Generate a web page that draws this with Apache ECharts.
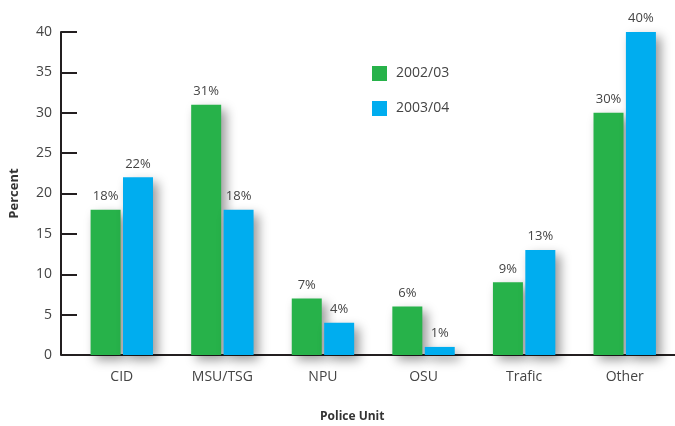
<!DOCTYPE html>
<html><head><meta charset="utf-8">
<script src="https://cdn.jsdelivr.net/npm/echarts@6/dist/echarts.min.js"></script>
<style>html,body{margin:0;padding:0;background:#fff}#c{width:675px;height:426px}</style>
</head><body><div id="c"></div>
<script>
const categories = ['CID', 'MSU/TSG', 'NPU', 'OSU', 'Trafic', 'Other'];
const series2002 = [18, 31, 7, 6, 9, 30];
const series2003 = [22, 18, 4, 1, 13, 40];
const seriesNames = ['2002/03', '2003/04'];
const yTicks = [0, 5, 10, 15, 20, 25, 30, 35, 40];

const font = '"Open Sans", "Noto Sans", sans-serif';
const txt = '#444';
const chart = echarts.init(document.getElementById('c'));
const barStyle = (color) => ({
  color: color,
  shadowColor: 'rgba(0,0,0,0.4)',
  shadowBlur: 11,
  shadowOffsetX: 5,
  shadowOffsetY: 5
});
const label = {
  show: true, position: 'top', distance: 7,
  formatter: '{c}%', color: txt, fontFamily: font, fontSize: 13
};
chart.setOption({
  animation: false,
  grid: { left: 71.5, right: 0, top: 32, bottom: 71 },
  title: {
    text: 'Police Unit', left: 315, top: 406,
    textStyle: { fontFamily: font, fontSize: 12, fontWeight: 'bold', color: '#333' }
  },
  legend: {
    orient: 'vertical', left: 372, top: 66, padding: 0,
    itemWidth: 15, itemHeight: 15, itemGap: 20,
    icon: 'rect',
    textStyle: { fontFamily: font, fontSize: 14, color: txt, padding: [0, 0, 0, 4] },
    data: seriesNames
  },
  xAxis: {
    type: 'category', data: categories,
    axisLine: { lineStyle: { color: '#231f20', width: 2 } },
    axisTick: { show: false },
    axisLabel: { margin: 15, fontFamily: font, fontSize: 14, color: txt }
  },
  yAxis: {
    type: 'value', min: yTicks[0], max: yTicks[yTicks.length - 1], interval: 5,
    offset: 10.5,
    name: 'Percent', nameLocation: 'middle', nameGap: 40, nameRotate: 90,
    nameTextStyle: { fontFamily: font, fontSize: 13, fontWeight: 'bold', color: '#333' },
    axisLine: { show: true, lineStyle: { color: '#231f20', width: 2 } },
    axisTick: { show: true, inside: true, length: 16, lineStyle: { color: '#231f20', width: 2 } },
    axisLabel: { margin: 9, fontFamily: font, fontSize: 14, color: txt },
    splitLine: { show: false }
  },
  graphic: [{
    type: 'line', shape: { x1: 61, y1: 355, x2: 72, y2: 355 },
    style: { stroke: '#231f20', lineWidth: 2 }, z: 10
  }],
  series: [
    { name: seriesNames[0], type: 'bar', data: series2002, barWidth: 30, barGap: '8%',
      itemStyle: barStyle('#27b24a'), label: label },
    { name: seriesNames[1], type: 'bar', data: series2003, barWidth: 30,
      itemStyle: barStyle('#00adef'), label: label }
  ]
});
</script></body></html>
